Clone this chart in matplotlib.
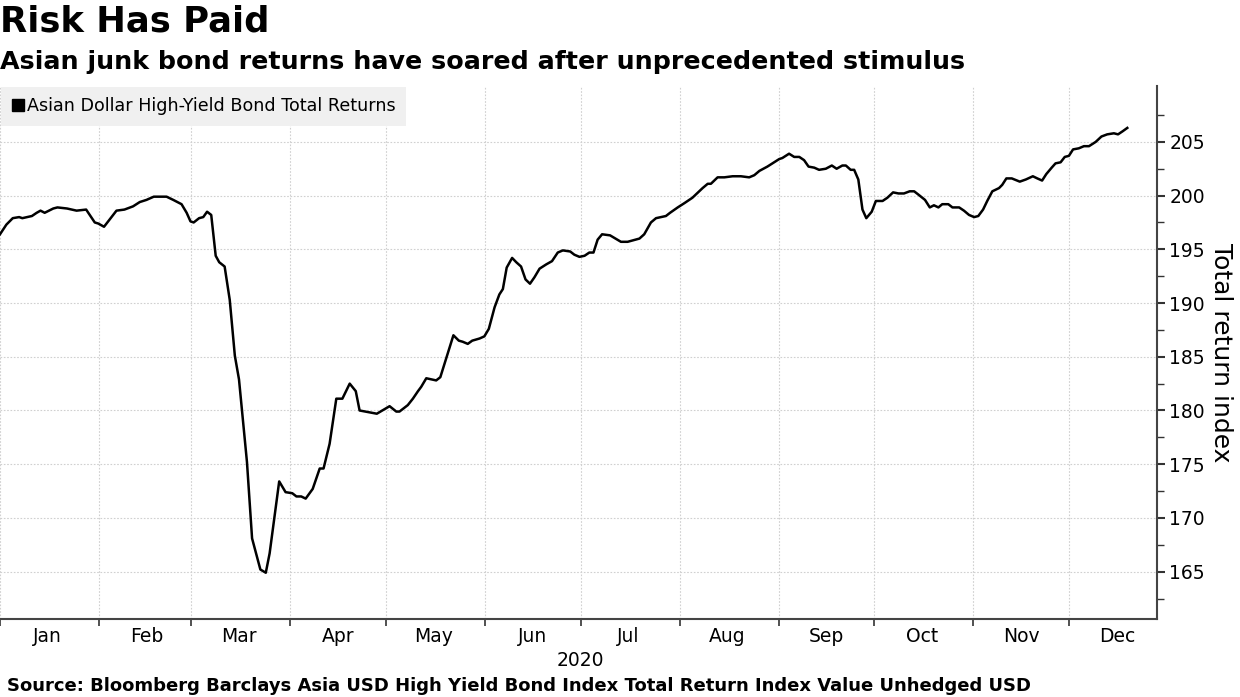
import matplotlib
matplotlib.use('Agg')
import matplotlib.pyplot as plt
import matplotlib.dates as mdates
from matplotlib.lines import Line2D
import pandas as pd

# days since 2020-01-01
days = [0, 2, 4, 6, 7, 10, 11.5, 12.7, 14, 16.7, 18, 21, 24, 27, 29.7, 30.8,
        32.6, 34.4, 36.5, 39, 41.7, 43.8, 45.9, 48.2, 52.2, 54.3, 56.9, 58.5,
        59.7, 60.7, 62.4, 63.7, 64.9, 66.2, 67.6, 68.7, 70.4, 72, 73.6, 74.9,
        77.4, 79, 81.6, 83.3, 84.5, 87.5, 89.5, 91.6, 92.9, 94.4, 95.8, 98,
        100.2, 101.4, 103.3, 105.4, 107.3, 109.6, 111.5, 112.7, 118.1, 122.1,
        124.2, 125.2, 127.8, 129.4, 131, 132, 133.6, 136.7, 138, 139.8, 142.1,
        143.8, 145, 146.6, 148, 150.3, 151.8, 153.2, 155, 156.5, 157.6, 158.8,
        160.5, 161.8, 163.3, 164.7, 166.1, 167.5, 169.1, 171.2, 173, 174.8,
        176.4, 178.7, 180, 181.6, 183.2, 184.7, 186, 187.3, 188.7, 191.2,
        194.6, 196.7, 200.4, 201.9, 204, 205.6, 208.7, 210, 212.4, 214.5, 217,
        220.2, 221.8, 222.8, 224.9, 227, 229.6, 232.2, 234.8, 236.4, 238,
        240.5, 242.6, 244.2, 245.2, 247.3, 248.9, 250.5, 252, 253.4, 255.2,
        256.7, 258.8, 260.7, 262.2, 264, 265.1, 266.6, 267.7, 269, 270.3,
        271.5, 273.2, 274.5, 276.6, 278.1, 279.9, 281.6, 283.3, 285.1, 286.5,
        287.8, 289.9, 291.4, 292.7, 294.1, 295.3, 297.2, 298.5, 300.6, 302.1,
        303.7, 305.3, 306.6, 308.1, 309.4, 311, 313.1, 314.1, 315.4, 317.1,
        319.6, 321.5, 323.7, 325.1, 326.6, 327.9, 329.6, 330.8, 332.4, 333.7,
        335, 336.3, 338.1, 339.7, 341.3, 343.4, 345.2, 347, 349.1, 350.4,
        351.9, 353.3]

values = [196.4, 197.3, 197.9, 198.0, 197.9, 198.1, 198.4, 198.6, 198.4, 198.8,
          198.9, 198.8, 198.6, 198.7, 197.5, 197.4, 197.1, 197.8, 198.6, 198.7,
          199.0, 199.4, 199.6, 199.9, 199.9, 199.6, 199.2, 198.4, 197.6, 197.5,
          197.9, 198.0, 198.5, 198.2, 194.4, 193.8, 193.4, 190.3, 185.1, 182.9,
          175.2, 168.1, 165.2, 164.9, 166.7, 173.4, 172.4, 172.3, 172.0, 172.0,
          171.8, 172.7, 174.6, 174.6, 176.9, 181.1, 181.1, 182.5, 181.8, 180.0,
          179.7, 180.4, 179.9, 179.9, 180.5, 181.1, 181.8, 182.2, 183.0, 182.8,
          183.1, 184.8, 187.0, 186.5, 186.4, 186.2, 186.5, 186.7, 186.9, 187.6,
          189.6, 190.8, 191.3, 193.3, 194.2, 193.8, 193.4, 192.2, 191.8, 192.4,
          193.2, 193.6, 193.9, 194.7, 194.9, 194.8, 194.5, 194.3, 194.4, 194.7,
          194.7, 195.9, 196.4, 196.3, 195.7, 195.7, 196.0, 196.4, 197.5, 197.9,
          198.1, 198.4, 198.9, 199.3, 199.8, 200.7, 201.1, 201.1, 201.7, 201.7,
          201.8, 201.8, 201.7, 201.9, 202.3, 202.7, 203.1, 203.4, 203.5, 203.9,
          203.6, 203.6, 203.3, 202.7, 202.6, 202.4, 202.5, 202.8, 202.5, 202.8,
          202.8, 202.4, 202.4, 201.5, 198.7, 197.9, 198.5, 199.5, 199.5, 199.8,
          200.3, 200.2, 200.2, 200.4, 200.4, 200.1, 199.6, 198.9, 199.1, 198.9,
          199.2, 199.2, 198.9, 198.9, 198.6, 198.2, 198.0, 198.1, 198.7, 199.5,
          200.4, 200.7, 201.0, 201.6, 201.6, 201.3, 201.5, 201.8, 201.6, 201.4,
          202.0, 202.6, 203.0, 203.1, 203.6, 203.7, 204.3, 204.4, 204.6, 204.6,
          205.0, 205.5, 205.7, 205.8, 205.7, 206.0, 206.3]

series_name = 'Asian Dollar High-Yield Bond Total Returns'
y_ticks = [165, 170, 175, 180, 185, 190, 195, 200, 205]

dates = pd.Timestamp('2020-01-01') + pd.to_timedelta(days, unit='D')

fig = plt.figure(figsize=(12.4, 6.97), dpi=100)
ax = fig.add_axes([0.0, 0.112, 0.933, 0.7646])

ax.plot(dates, values, color='black', lw=1.8)

ax.set_xlim(pd.Timestamp('2020-01-01'), pd.Timestamp('2020-12-28 14:00'))
ax.set_ylim(160.6, 210.2)

# month starts get tick marks and grid, labels sit mid-month
ax.xaxis.set_major_locator(mdates.MonthLocator())
ax.xaxis.set_major_formatter(plt.NullFormatter())
ax.xaxis.set_minor_locator(mdates.MonthLocator(bymonthday=16))
ax.xaxis.set_minor_formatter(mdates.DateFormatter('%b'))
ax.tick_params(axis='x', which='major', length=5, width=1.2, color='#333333')
ax.tick_params(axis='x', which='minor', length=0, labelsize=13.5, pad=6)

ax.yaxis.tick_right()
ax.yaxis.set_label_position('right')
ax.set_yticks(y_ticks)
ax.set_yticks([t + 2.5 for t in [160] + y_ticks], minor=True)
ax.tick_params(axis='y', which='major', length=6, width=1.5, color='#333333',
               labelsize=13.5, pad=3)
ax.tick_params(axis='y', which='minor', length=5, width=1, color='#333333')
ax.set_ylabel('Total return index', rotation=270, fontsize=18, labelpad=20)

ax.grid(True, which='major', color='#d0d0d0', linestyle=(0, (1.5, 1.5)), lw=0.8)

for side in ['top', 'left']:
    ax.spines[side].set_visible(False)
for side in ['bottom', 'right']:
    ax.spines[side].set_color('#444444')
    ax.spines[side].set_linewidth(1.5)

handle = Line2D([], [], marker='s', color='black', linestyle='none', markersize=8)
leg = ax.legend([handle], [series_name], loc='upper left', fontsize=12.6,
                frameon=True, fancybox=False, borderaxespad=0.05,
                handletextpad=0.1, handlelength=0.8, borderpad=0.6)
leg.get_frame().set_facecolor('#f0f0f0')
leg.get_frame().set_edgecolor('none')
leg.get_frame().set_alpha(1)

fig.text(580 / 1240, 1 - 660 / 697, '2020', ha='center', va='center', fontsize=13.5)

fig.text(0.0, 1 - 22 / 697, 'Risk Has Paid', fontsize=25.5, weight='bold', va='center')
fig.text(0.0, 1 - 62 / 697,
         'Asian junk bond returns have soared after unprecedented stimulus',
         fontsize=18.3, weight='bold', va='center')
fig.text(0.006, 1 - 686 / 697,
         'Source: Bloomberg Barclays Asia USD High Yield Bond Index Total Return Index Value Unhedged USD',
         fontsize=13, weight='bold', va='center')

fig.savefig('out.png', dpi=100)
